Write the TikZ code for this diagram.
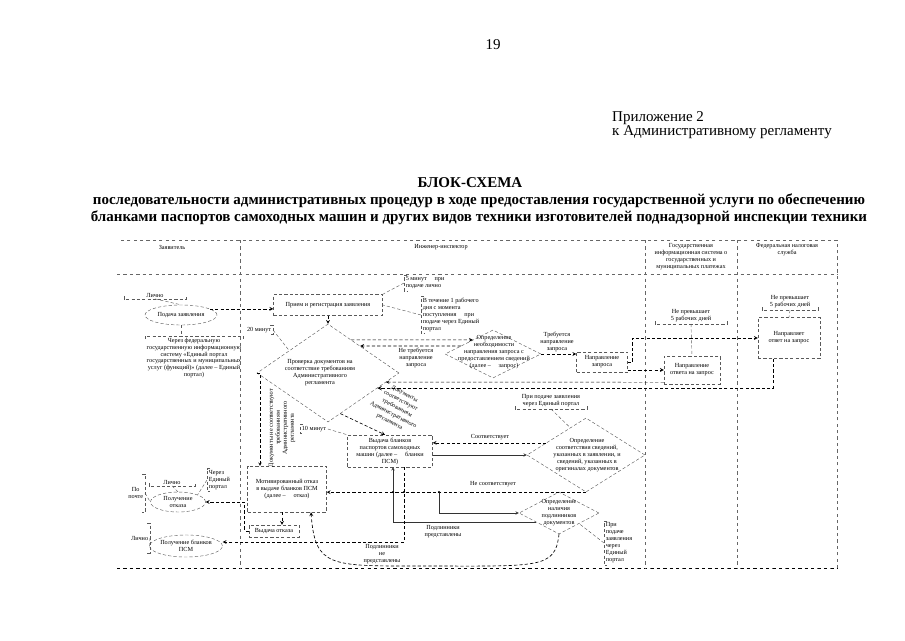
\documentclass[tikz,border=0pt]{standalone}
\usepackage{fontspec}
\setmainfont{Liberation Serif}
\usetikzlibrary{shapes.geometric}

\newlength{\unitpx}
\setlength{\unitpx}{0.0328cm}
\newcommand{\diag}{\fontsize{5.8}{6.5}\selectfont}
\newcommand{\noteL}[1]{\draw[notebr] ([xshift=3\unitpx]#1.north west) -- (#1.north west) -- (#1.south west) -- ([xshift=3\unitpx]#1.south west);}
\newcommand{\noteR}[1]{\draw[notebr] ([xshift=-3\unitpx]#1.north east) -- (#1.north east) -- (#1.south east) -- ([xshift=-3\unitpx]#1.south east);}
\newcommand{\noteB}[1]{\draw[notebr] ([yshift=3\unitpx]#1.south west) -- (#1.south west) -- (#1.south east) -- ([yshift=3\unitpx]#1.south east);}
\newcommand{\noteT}[1]{\draw[notebr] ([yshift=-3\unitpx]#1.north west) -- (#1.north west) -- (#1.north east) -- ([yshift=-3\unitpx]#1.north east);}

\tikzset{
  box/.style={draw=black!65, densely dashed, align=center, font=\diag, inner sep=1pt},
  oval/.style={ellipse, draw=black!65, densely dashed, align=center, font=\diag, inner sep=0pt},
  rhomb/.style={diamond, draw=black!65, densely dashed, inner sep=0pt},
  note/.style={font=\diag, align=left, inner sep=1.5pt},
  notebr/.style={draw=black!65, densely dashed, thin},
  lbl/.style={font=\diag, align=center, inner sep=0pt},
  conn/.style={densely dashed, semithick},
  link/.style={thin, black!80},
  frame/.style={draw=black!60, dashed, thin},
  pagetext/.style={font=\fontsize{14}{16.3}\selectfont, inner sep=0pt},
}

\begin{document}
\begin{tikzpicture}[x=0.0328cm, y=-0.0328cm, >=stealth]
\useasboundingbox (0,0) rectangle (905,640);

  % Шапка страницы
  \node[pagetext] (pageNo) at (493,45) {19};
  \node[pagetext, anchor=west] (prilA) at (612,118) {Приложение 2};
  \node[pagetext, anchor=west] (prilB) at (612,132) {к Административному регламенту};
  \node[pagetext, font=\fontsize{14}{16.3}\selectfont\bfseries] (titleA) at (470,183) {БЛОК-СХЕМА};
  \node[pagetext, font=\fontsize{14}{16.3}\selectfont\bfseries, align=center] (titleB) at (479,209)
    {последовательности административных процедур в ходе предоставления государственной услуги по обеспечению\\
     бланками паспортов самоходных машин и других видов техники изготовителей поднадзорной инспекции техники};

  % Рамка и колонки
  \draw[frame] (117,240) rectangle (837,568);
  \draw[double, double distance=1.2pt, black!70] (117,240) -- (117,568);
  \draw[dashed, thick] (117,568) -- (837,568);
  \draw[frame] (117,274) -- (837,274);
  \foreach \x in {240,645,737}
    \draw[frame] (\x,240) -- (\x,568);

  \node[lbl] (hZayav) at (172,247) {Заявитель};
  \node[lbl] (hInsp) at (441,247) {Инженер-инспектор};
  \node[lbl] (hGis) at (691,257) {Государственная\\информационная система о\\государственных и\\муниципальных платежах};
  \node[lbl] (hFns) at (787,250) {Федеральная налоговая\\служба};

  % Заявитель
  \node[oval, minimum width=72\unitpx, minimum height=20\unitpx] (podacha) at (181,315) {Подача заявления};
  \node[oval, minimum width=55\unitpx, minimum height=20\unitpx] (polOtkaz) at (178,502) {Получение\\отказа};
  \node[oval, minimum width=63\unitpx, minimum height=22\unitpx] (polBlank) at (186,546) {Получение бланков\\ПСМ};

  % Инженер-инспектор
  \node[box, minimum width=109\unitpx, minimum height=21\unitpx] (priem) at (328,305) {Прием и регистрация заявления};
  \node[rhomb, minimum width=142\unitpx, minimum height=98\unitpx] (proverka) at (328,373) {};
  \node[lbl] (proverkaT) at (320,373) {Проверка документов на\\соответствие требованиям\\Административного\\регламента};
  \node[rhomb, minimum width=96\unitpx, minimum height=48\unitpx] (opredNeobh) at (493,354) {};
  \node[lbl] (opredNeobhT) at (494,352) {Определение\\необходимости\\направления запроса с\\предоставлением сведений\\(далее – \quad запрос)};
  \node[box, minimum width=51\unitpx, minimum height=20\unitpx] (napravZapr) at (602,362) {Направление\\запроса};
  \node[box, minimum width=85\unitpx, minimum height=32\unitpx] (vydachaBlank) at (390,451) {Выдача бланков\\паспортов самоходных\\машин (далее – \quad бланки\\ПСМ)};
  \node[rhomb, minimum width=118\unitpx, minimum height=74\unitpx] (opredSootv) at (586,455) {};
  \node[lbl] (opredSootvT) at (587,455) {Определение\\соответствия сведений,\\указанных в заявлении, и\\сведений, указанных в\\оригиналах документов};
  \node[rhomb, minimum width=80\unitpx, minimum height=42\unitpx] (opredPodl) at (559,513) {};
  \node[lbl] (opredPodlT) at (559,513) {Определение\\наличия\\подлинников\\документов};
  \node[box, minimum width=79\unitpx, minimum height=46\unitpx] (motivOtkaz) at (287,489) {Мотивированный отказ\\в выдаче бланков ПСМ\\(далее – \quad отказ)};
  \node[box, minimum width=50\unitpx, minimum height=12\unitpx] (vydachaOtkaza) at (274,531) {Выдача отказа};

  % ГИС и ФНС
  \node[box, minimum width=56\unitpx, minimum height=28\unitpx] (gisOtvet) at (692,370) {Направление\\ответа на запрос};
  \node[box, minimum width=62\unitpx, minimum height=41\unitpx] (fnsOtvet) at (789,338) {Направляет\\ответ на запрос};

  % Прием и проверка
  \draw[conn, ->] (podacha.12) -- (podacha.12 -| priem.west);
  \draw[conn, ->] (priem.south) -- (proverka.north);

  % Запрос
  \draw[conn, ->] (proverka.55) -- (opredNeobh.145);
  \draw[conn, ->] (opredNeobh.166) -- (proverka.40);
  \node[lbl] (neTreb) at (416,358) {Не требуется\\направление\\запроса};
  \draw[conn, ->] (opredNeobh.east) -- (opredNeobh.east -| napravZapr.west);
  \node[lbl] (treb) at (557,342) {Требуется\\направление\\запроса};
  \draw[conn, ->] (napravZapr.east) -- ++(5,0) |- (fnsOtvet.west);
  \draw[conn, ->] (gisOtvet.west -| napravZapr.east) -- (gisOtvet.west);
  \draw[densely dashed, thin, ->] ([yshift=2\unitpx]gisOtvet.south west) -- (proverka.351);
  \draw[densely dashed, thick, ->] ([xshift=-16\unitpx]fnsOtvet.south) |- (proverka.343);

  % Результат проверки
  \draw[conn, ->] (proverka.287) -- ([xshift=-5\unitpx]vydachaBlank.north);
  \node[lbl, rotate=-28, font=\fontsize{5.6}{7.4}\selectfont] (sootvTreb) at (397,408) {Документы\\соответствуют\\требованиям\\Административного\\регламента};
  \draw[densely dashed, thin, ->] (proverka.west) -| ([xshift=-27\unitpx]motivOtkaz.north);
  \node[lbl, rotate=90] (neSootvTreb) at (282,428) {Документы не соответствуют\\требованиям\\Административного\\регламента};

  % Выдача бланков
  \draw[conn, ->] (opredSootv.163) -- (opredSootv.163 -| vydachaBlank.east);
  \node[lbl] (sootv) at (490,437) {Соответствует};
  \draw[link, ->] (vydachaBlank.east |- opredSootv.west) -- (opredSootv.west);
  \draw[conn, ->] (opredSootv.south) -- (opredSootv.south -| motivOtkaz.east);
  \node[lbl] (neSootv) at (493,484) {Не соответствует};
  \coordinate (jPodl) at (439,492);
  \draw[link, ->] (jPodl) |- (opredPodl.west);
  \draw[link, ->] (opredPodl.201) -| ([xshift=3\unitpx]vydachaBlank.south);
  \node[lbl] (podlPred) at (443,532) {Подлинники\\представлены};
  \draw[conn, ->] ([xshift=14\unitpx]vydachaBlank.south) |- ([yshift=4\unitpx]polBlank.east);
  \draw[conn, ->] (opredPodl.south) .. controls +(-4,35) and +(120,0) .. (420,566)
    .. controls +(-90,0) and +(4,55) .. ([xshift=24\unitpx]motivOtkaz.south);
  \node[lbl] (podlNe) at (382,554) {Подлинники\\не\\представлены};
  \fill (jPodl) circle[radius=1.2\unitpx];
  \fill ([xshift=3\unitpx]vydachaBlank.south |- jPodl) circle[radius=1.2\unitpx];
  \fill ([xshift=14\unitpx]vydachaBlank.south |- jPodl) circle[radius=1.2\unitpx];

  % Отказ
  \draw[conn, ->] ([xshift=8\unitpx]vydachaOtkaza.north |- motivOtkaz.south) -- ([xshift=8\unitpx]vydachaOtkaza.north);
  \draw[conn, ->] (vydachaOtkaza.west) -- ++(-4,0) |- (polOtkaz.east);

  % Примечания
  \node[note, minimum width=62\unitpx, align=center] (nLichno1) at (155,295) {Лично};
  \noteB{nLichno1}
  \draw[notebr] (nLichno1.south) -- (podacha.north);
  \node[note, align=center] (nPortal1) at (194,358) {Через федеральную\\государственную информационную\\систему «Единый портал\\государственных и муниципальных\\услуг (функций)» (далее – Единый\\портал)};
  \noteT{nPortal1}
  \draw[notebr] (podacha.south) -- (podacha.south |- nPortal1.north);
  \node[note, anchor=west] (n5min) at (404,283) {5 минут \quad при\\подаче лично};
  \noteL{n5min}
  \draw[notebr] (n5min.west) -- (priem.north east);
  \node[note, anchor=west] (n1day) at (421,315) {В течение 1 рабочего\\дня с момента\\поступления \quad при\\подаче через Единый\\портал};
  \noteL{n1day}
  \draw[notebr] (n1day.west) -- (priem.east);
  \node[note, anchor=east] (n20min) at (273,330) {20 минут};
  \noteR{n20min}
  \draw[notebr] (n20min.east) -- (proverka.150);
  \node[note, anchor=west] (n10min) at (300,429) {10 минут};
  \noteL{n10min}
  \draw[notebr] (n10min.east) -- (vydachaBlank.north west);
  \node[note, align=center, minimum width=72\unitpx] (nGis5) at (691,316) {Не превышает\\5 рабочих дней};
  \noteB{nGis5}
  \draw[notebr] (nGis5.south) -- (gisOtvet.north);
  \node[note, align=center, minimum width=56\unitpx] (nFns5) at (790,302) {Не превышает\\5 рабочих дней};
  \noteB{nFns5}
  \draw[notebr] (nFns5.south) -- (fnsOtvet.north);
  \node[note, align=center, minimum width=72\unitpx] (nPortal3) at (551,401) {При подаче заявления\\через Единый портал};
  \noteB{nPortal3}
  \draw[notebr] (nPortal3.south) -- (opredSootv.120);
  \node[note, anchor=west] (nPortal4) at (604,543) {При\\подаче\\заявления\\через\\Единый\\портал};
  \noteL{nPortal4}
  \draw[notebr] (nPortal4.west) -- (opredPodl.south east);
  \node[note, minimum width=46\unitpx, align=center] (nLichno2) at (172,482) {Лично};
  \noteB{nLichno2}
  \draw[notebr] (nLichno2.south) -- (polOtkaz.north);
  \node[note, anchor=west] (nPortal2) at (207,480) {Через\\Единый\\портал};
  \noteL{nPortal2}
  \draw[notebr] (nPortal2.west) -- (polOtkaz.north east);
  \node[note, anchor=east, minimum height=38\unitpx, align=center] (nPost) at (145,493) {По\\почте};
  \noteR{nPost}
  \draw[notebr] (nPost.east) -- (polOtkaz.west);
  \node[note, anchor=east, minimum height=29\unitpx] (nLichno3) at (150,538) {Лично};
  \noteR{nLichno3}
  \draw[notebr] (nLichno3.east) -- (polBlank.west);

\end{tikzpicture}
\end{document}
